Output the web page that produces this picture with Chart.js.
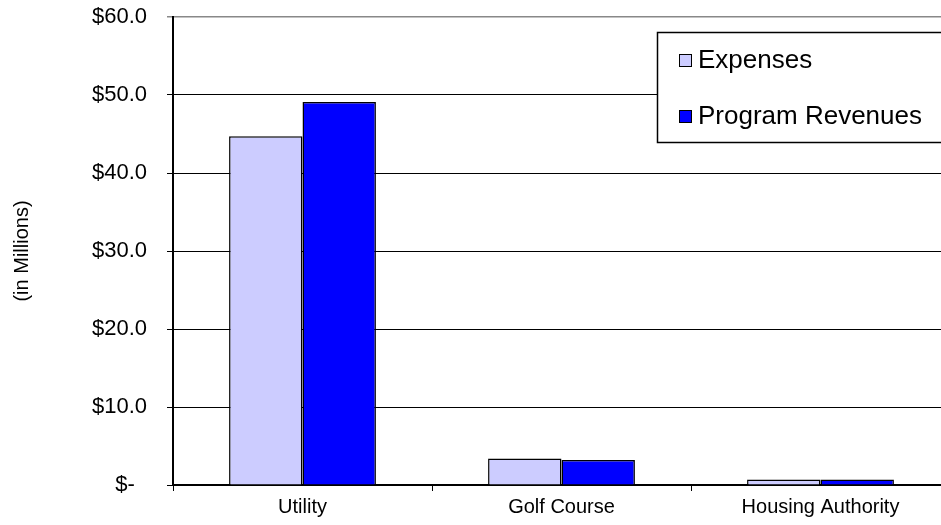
<!DOCTYPE html>
<html>
<head>
<meta charset="utf-8">
<script src="https://cdn.jsdelivr.net/npm/chart.js@4/dist/chart.umd.min.js"></script>
<style>
  html, body { margin: 0; padding: 0; background: #fff; overflow: hidden; }
  #wrap { width: 960px; height: 525px; position: relative; }
</style>
</head>
<body>
<div id="wrap"><canvas id="chart"></canvas></div>
<script>
// categories and values (in millions)
const categories = ["Utility", "Golf Course", "Housing Authority"];
const expenses = [44.7, 3.4, 0.7];
const programRevenues = [49.1, 3.2, 0.7];
const yTicks = [0, 10, 20, 30, 40, 50, 60];

const FONT = "'Liberation Sans', Arial, sans-serif";
Chart.defaults.font.family = FONT;
Chart.defaults.color = "#000";

// floating legend box in the upper right, drawn over the grid lines
const boxLegend = {
  id: "boxLegend",
  afterDraw(chart) {
    const ctx = chart.ctx;
    const x = 657, y = 32, w = 320, h = 110;
    ctx.save();
    ctx.fillStyle = "#fff";
    ctx.fillRect(x, y, w, h);
    ctx.strokeStyle = "#000";
    ctx.lineWidth = 1.5;
    ctx.strokeRect(x + 0.5, y + 0.5, w, h);
    ctx.font = "26px " + FONT;
    ctx.textBaseline = "middle";
    chart.data.datasets.forEach((ds, i) => {
      const cy = y + 28 + i * 56;
      ctx.fillStyle = ds.backgroundColor;
      ctx.fillRect(679, cy - 6, 12, 12);
      ctx.lineWidth = 1;
      ctx.strokeStyle = "#000";
      ctx.strokeRect(679.5, cy - 5.5, 12, 12);
      ctx.fillStyle = "#000";
      ctx.fillText(ds.label, 698, cy + 1);
    });
    ctx.restore();
  }
};

new Chart(document.getElementById("chart"), {
  type: "bar",
  data: {
    labels: categories,
    datasets: [
      {
        label: "Expenses",
        data: expenses,
        backgroundColor: "#CCCCFF",
        borderColor: "#000",
        borderWidth: 1.5,
      },
      {
        label: "Program Revenues",
        data: programRevenues,
        backgroundColor: "#0000FF",
        borderColor: "#000",
        borderWidth: 1.5,
      },
    ],
  },
  options: {
    responsive: true,
    maintainAspectRatio: false,
    animation: false,
    layout: { padding: { top: 17, right: 10, left: 0, bottom: 0 } },
    datasets: {
      bar: { categoryPercentage: 0.567, barPercentage: 1.0 },
    },
    plugins: {
      legend: { display: false },
      tooltip: { enabled: false },
    },
    scales: {
      x: {
        grid: {
          display: true,
          drawOnChartArea: false,
          drawTicks: true,
          tickLength: 6,
          color: "#000",
        },
        border: { color: "#000", width: 2 },
        ticks: { font: { size: 20 }, color: "#000", padding: 4 },
        afterFit(scale) {
          scale.height = 40;
          scale.paddingLeft = 0;
          scale.paddingRight = 0;
        },
      },
      y: {
        min: 0,
        max: 60,
        afterBuildTicks(scale) {
          scale.ticks = yTicks.map((v) => ({ value: v }));
        },
        grid: {
          color: (c) => (c.tick && c.tick.value === 60 ? "#888" : "#000"),
          lineWidth: (c) => (c.tick && c.tick.value === 60 ? 1.5 : 1),
          tickLength: 6,
        },
        border: { color: "#000", width: 2 },
        ticks: {
          font: { size: 22 },
          color: "#000",
          padding: 20,
          callback: (v) => (v === 0 ? "$-  " : "$" + v.toFixed(1)),
        },
        title: {
          display: true,
          text: "(in Millions)",
          font: { size: 20 },
          color: "#000",
          padding: { top: 10, bottom: 0 },
        },
        afterFit(scale) {
          scale.width = 173;
          scale.paddingTop = 0;
          scale.paddingBottom = 0;
        },
      },
    },
  },
  plugins: [boxLegend],
});
</script>
</body>
</html>
